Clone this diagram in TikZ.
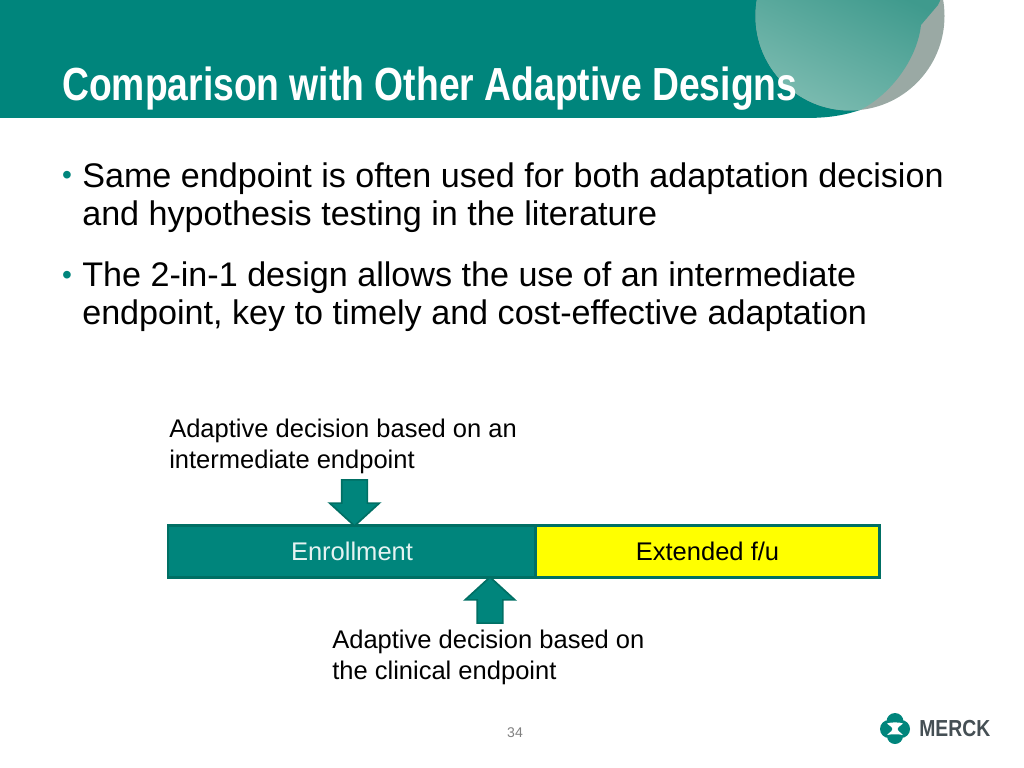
\documentclass[tikz,border=0pt]{standalone}
\usepackage{fontspec}
\usepackage{graphicx}
\setmainfont{Liberation Sans}
\usetikzlibrary{shapes,shapes.arrows}
\definecolor{merckteal}{HTML}{00857C}
\definecolor{merckdark}{HTML}{006F64}
\definecolor{circlegray}{HTML}{9AA9A4}
\definecolor{circletop}{HTML}{3F9A8D}
\definecolor{circlelow}{HTML}{7FBDB2}
\definecolor{logotext}{HTML}{454F54}
\definecolor{baryellow}{HTML}{FFFF00}

\begin{document}
\begin{tikzpicture}[
    x=0.025cm, y=-0.025cm,
    bodytext/.style={anchor=north west, align=left, inner sep=0pt, font=\fontsize{24.27}{27.7}\selectfont},
    bullet/.style={anchor=base, inner sep=0pt, color=merckteal, font=\fontsize{20}{24}\selectfont},
    notetext/.style={anchor=north west, align=left, inner sep=0pt, font=\fontsize{18.15}{22}\selectfont},
    bar/.style={rectangle, minimum height=1.3cm, inner sep=0pt, draw=merckdark, line width=2pt, font=\fontsize{18.15}{22}\selectfont},
    blockarrow/.style={single arrow, minimum height=1.15cm, minimum width=1.2cm, inner xsep=0pt, inner ysep=0.3cm,
                single arrow head extend=0.3cm, single arrow tip angle=95, fill=merckteal, draw=merckdark, line width=1.2pt}
]
\useasboundingbox (0,0) rectangle (1024,768);

% Title band
\fill[merckteal] (0,0) -- (860,0) -- (860,110) .. controls (845,115) and (830,118) .. (805,118) -- (0,118) -- cycle;
\begin{scope}
\clip (0,0) rectangle (1024,768);
\fill[circlegray] (850,16) circle (94.5);
\clip (850,16) circle (94.5);
\shade[top color=circletop, bottom color=circlelow, shading angle=-25]
    (750,-10) -- (945,-10) -- (938,5) -- (921,25) .. controls (917,60) and (890,95) .. (860,110) -- (750,115) -- cycle;
\end{scope}
\node[anchor=base west, inner sep=0pt, color=white, font=\fontsize{33}{36}\selectfont\bfseries] (title) at (62,101)
    {\scalebox{0.803}[1]{Comparison with Other Adaptive Designs}};

% Bullets
\node[bullet] (dotone) at (67,185) {•};
\node[bodytext] (bulletone) at (82,162) {Same endpoint is often used for both adaptation decision\\and hypothesis testing in the literature};
\node[bullet] (dottwo) at (67,284) {•};
\node[bodytext] (bullettwo) at (82,261) {The 2-in-1 design allows the use of an intermediate\\endpoint, key to timely and cost-effective adaptation};

% Upper label
\node[notetext] (intermediate) at (169,419) {Adaptive decision based on an\\intermediate endpoint};

% Timeline
\node[bar, fill=merckteal, text=white!90!merckteal, minimum width=9.2cm] (enrollment) at (352,551.5) {Enrollment};
\node[bar, fill=baryellow, minimum width=8.58cm] (extended) at (707.5,551.5) {Extended f/u};

% Decision arrows
\node[blockarrow, rotate=270] (downarrow) at (354.5,497) {};
\node[blockarrow, rotate=90] (uparrow) at (490,606) {};

% Lower label
\node[notetext] (clinical) at (332,630) {Adaptive decision based on\\the clinical endpoint};

% Page number
\node[inner sep=0pt, color=gray, font=\fontsize{10}{12}\selectfont] (pagenum) at (515,733) {34};

% Logo
\fill[merckteal] (889,729) circle (9) (901,729) circle (9) (895,721.5) circle (8.5) (895,736) circle (8);
\fill[white] (887,723.5) .. controls (891,722) and (899,722) .. (903,723.5) .. controls (899,727) and (897.5,727) .. (897.5,729)
    .. controls (897.5,731) and (899,731) .. (903,735) .. controls (899,734) and (891,734) .. (887,735)
    .. controls (891,731) and (892.5,731) .. (892.5,729) .. controls (892.5,727) and (891,727) .. (887,723.5) -- cycle;
\node[anchor=west, inner sep=0pt, color=logotext, font=\fontsize{16}{18}\selectfont\bfseries] (merck) at (919,729) {\scalebox{0.86}[1.03]{MERCK}};

\end{tikzpicture}
\end{document}
